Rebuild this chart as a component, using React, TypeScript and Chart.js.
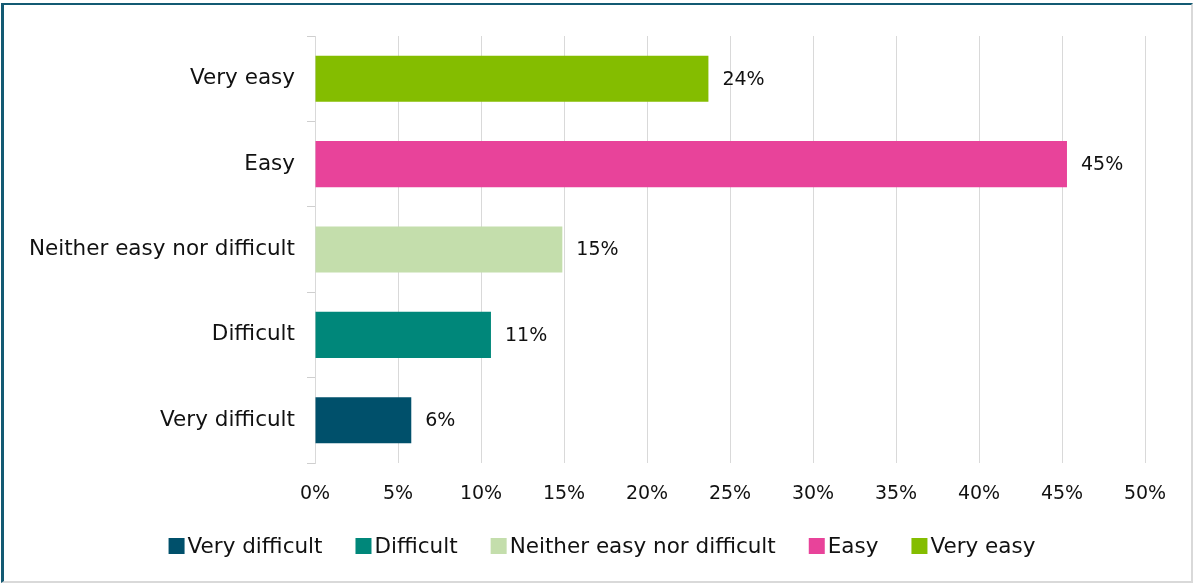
import React, { useEffect, useRef } from "react";
import { Chart, registerables } from "chart.js";

Chart.register(...registerables);

const categories = ["Very easy", "Easy", "Neither easy nor difficult", "Difficult", "Very difficult"];
const values = [23.7, 45.3, 14.9, 10.6, 5.8];
const valueLabels = ["24%", "45%", "15%", "11%", "6%"];
const barColors = ["#84BD00", "#E8439A", "#C4DEAC", "#00877A", "#00506B"];
const legendOrder = [4, 3, 2, 1, 0];
const xMax = 50;
const xStep = 5;

const FONT = "'DejaVu Sans', Verdana, sans-serif";
const TEXT_SIZE = 21.5;
const NUM_SIZE = 19;
const TEXT_COLOR = "#111111";
const GRID = "#d9d9d9";

const W = 1187;
const H = 576;

const barLabelPlugin = {
  id: "barLabels",
  afterDatasetsDraw(chart: any) {
    const ctx = chart.ctx;
    const meta = chart.getDatasetMeta(0);
    ctx.save();
    ctx.font = `${NUM_SIZE}px ${FONT}`;
    ctx.fillStyle = TEXT_COLOR;
    ctx.textAlign = "left";
    ctx.textBaseline = "middle";
    meta.data.forEach((bar: any, i: number) => {
      ctx.fillText(valueLabels[i], bar.x + 14, bar.y + 1);
    });
    ctx.restore();
  },
};

const legendPlugin = {
  id: "customLegend",
  afterDraw(chart: any) {
    const ctx = chart.ctx;
    ctx.save();
    ctx.font = `${TEXT_SIZE}px ${FONT}`;
    ctx.textBaseline = "middle";
    ctx.textAlign = "left";
    const box = 16;
    const gap = 3;
    const spacing = 33;
    const items = legendOrder.map((i) => ({
      text: categories[i],
      color: barColors[i],
      w: box + gap + ctx.measureText(categories[i]).width,
    }));
    const total = items.reduce((s, it) => s + it.w, 0) + spacing * (items.length - 1);
    let x = 598 - total / 2;
    const cy = 541;
    items.forEach((it) => {
      ctx.fillStyle = it.color;
      ctx.fillRect(x, cy - box / 2, box, box);
      ctx.fillStyle = TEXT_COLOR;
      ctx.fillText(it.text, x + box + gap, cy + 1);
      x += it.w + spacing;
    });
    ctx.restore();
  },
};

export default function App() {
  const ref = useRef<HTMLCanvasElement | null>(null);

  useEffect(() => {
    document.body.style.margin = "0";
    document.body.style.background = "#ffffff";
    const canvas = ref.current;
    if (!canvas) return;
    const chart = new Chart(canvas, {
      type: "bar",
      data: {
        labels: categories,
        datasets: [
          {
            data: values,
            backgroundColor: barColors,
            borderWidth: 0,
            barPercentage: 0.54,
            categoryPercentage: 1,
          },
        ],
      },
      options: {
        indexAxis: "y",
        responsive: false,
        devicePixelRatio: 1,
        animation: false,
        layout: { padding: { top: 31, right: 46, left: 0, bottom: 0 } },
        plugins: {
          legend: { display: false },
          tooltip: { enabled: false },
        },
        scales: {
          x: {
            min: 0,
            max: xMax,
            afterFit: (scale: any) => {
              scale.height = 118;
            },
            ticks: {
              stepSize: xStep,
              padding: 20,
              color: TEXT_COLOR,
              font: { family: FONT, size: NUM_SIZE },
              callback: (v: any) => `${v}%`,
            },
            grid: { color: GRID, lineWidth: 1, drawTicks: false },
            border: { display: false },
          },
          y: {
            afterFit: (scale: any) => {
              scale.width = 311;
            },
            ticks: {
              padding: 12,
              color: TEXT_COLOR,
              font: { family: FONT, size: TEXT_SIZE },
            },
            grid: {
              offset: true,
              drawOnChartArea: false,
              tickLength: 8,
              color: "#cfcfcf",
            },
            border: { display: true, color: GRID },
          },
        },
      },
      plugins: [barLabelPlugin, legendPlugin],
    } as any);
    return () => chart.destroy();
  }, []);

  return (
    <div
      style={{
        position: "absolute",
        left: 1,
        top: 3,
        width: 1192,
        height: 580,
        boxSizing: "border-box",
        borderLeft: "3px solid #135A73",
        borderTop: "2px solid #135A73",
        borderRight: "2px solid #d9d9d9",
        borderBottom: "2px solid #d9d9d9",
        background: "#ffffff",
      }}
    >
      <canvas ref={ref} width={W} height={H} style={{ display: "block", width: W, height: H }} />
    </div>
  );
}
